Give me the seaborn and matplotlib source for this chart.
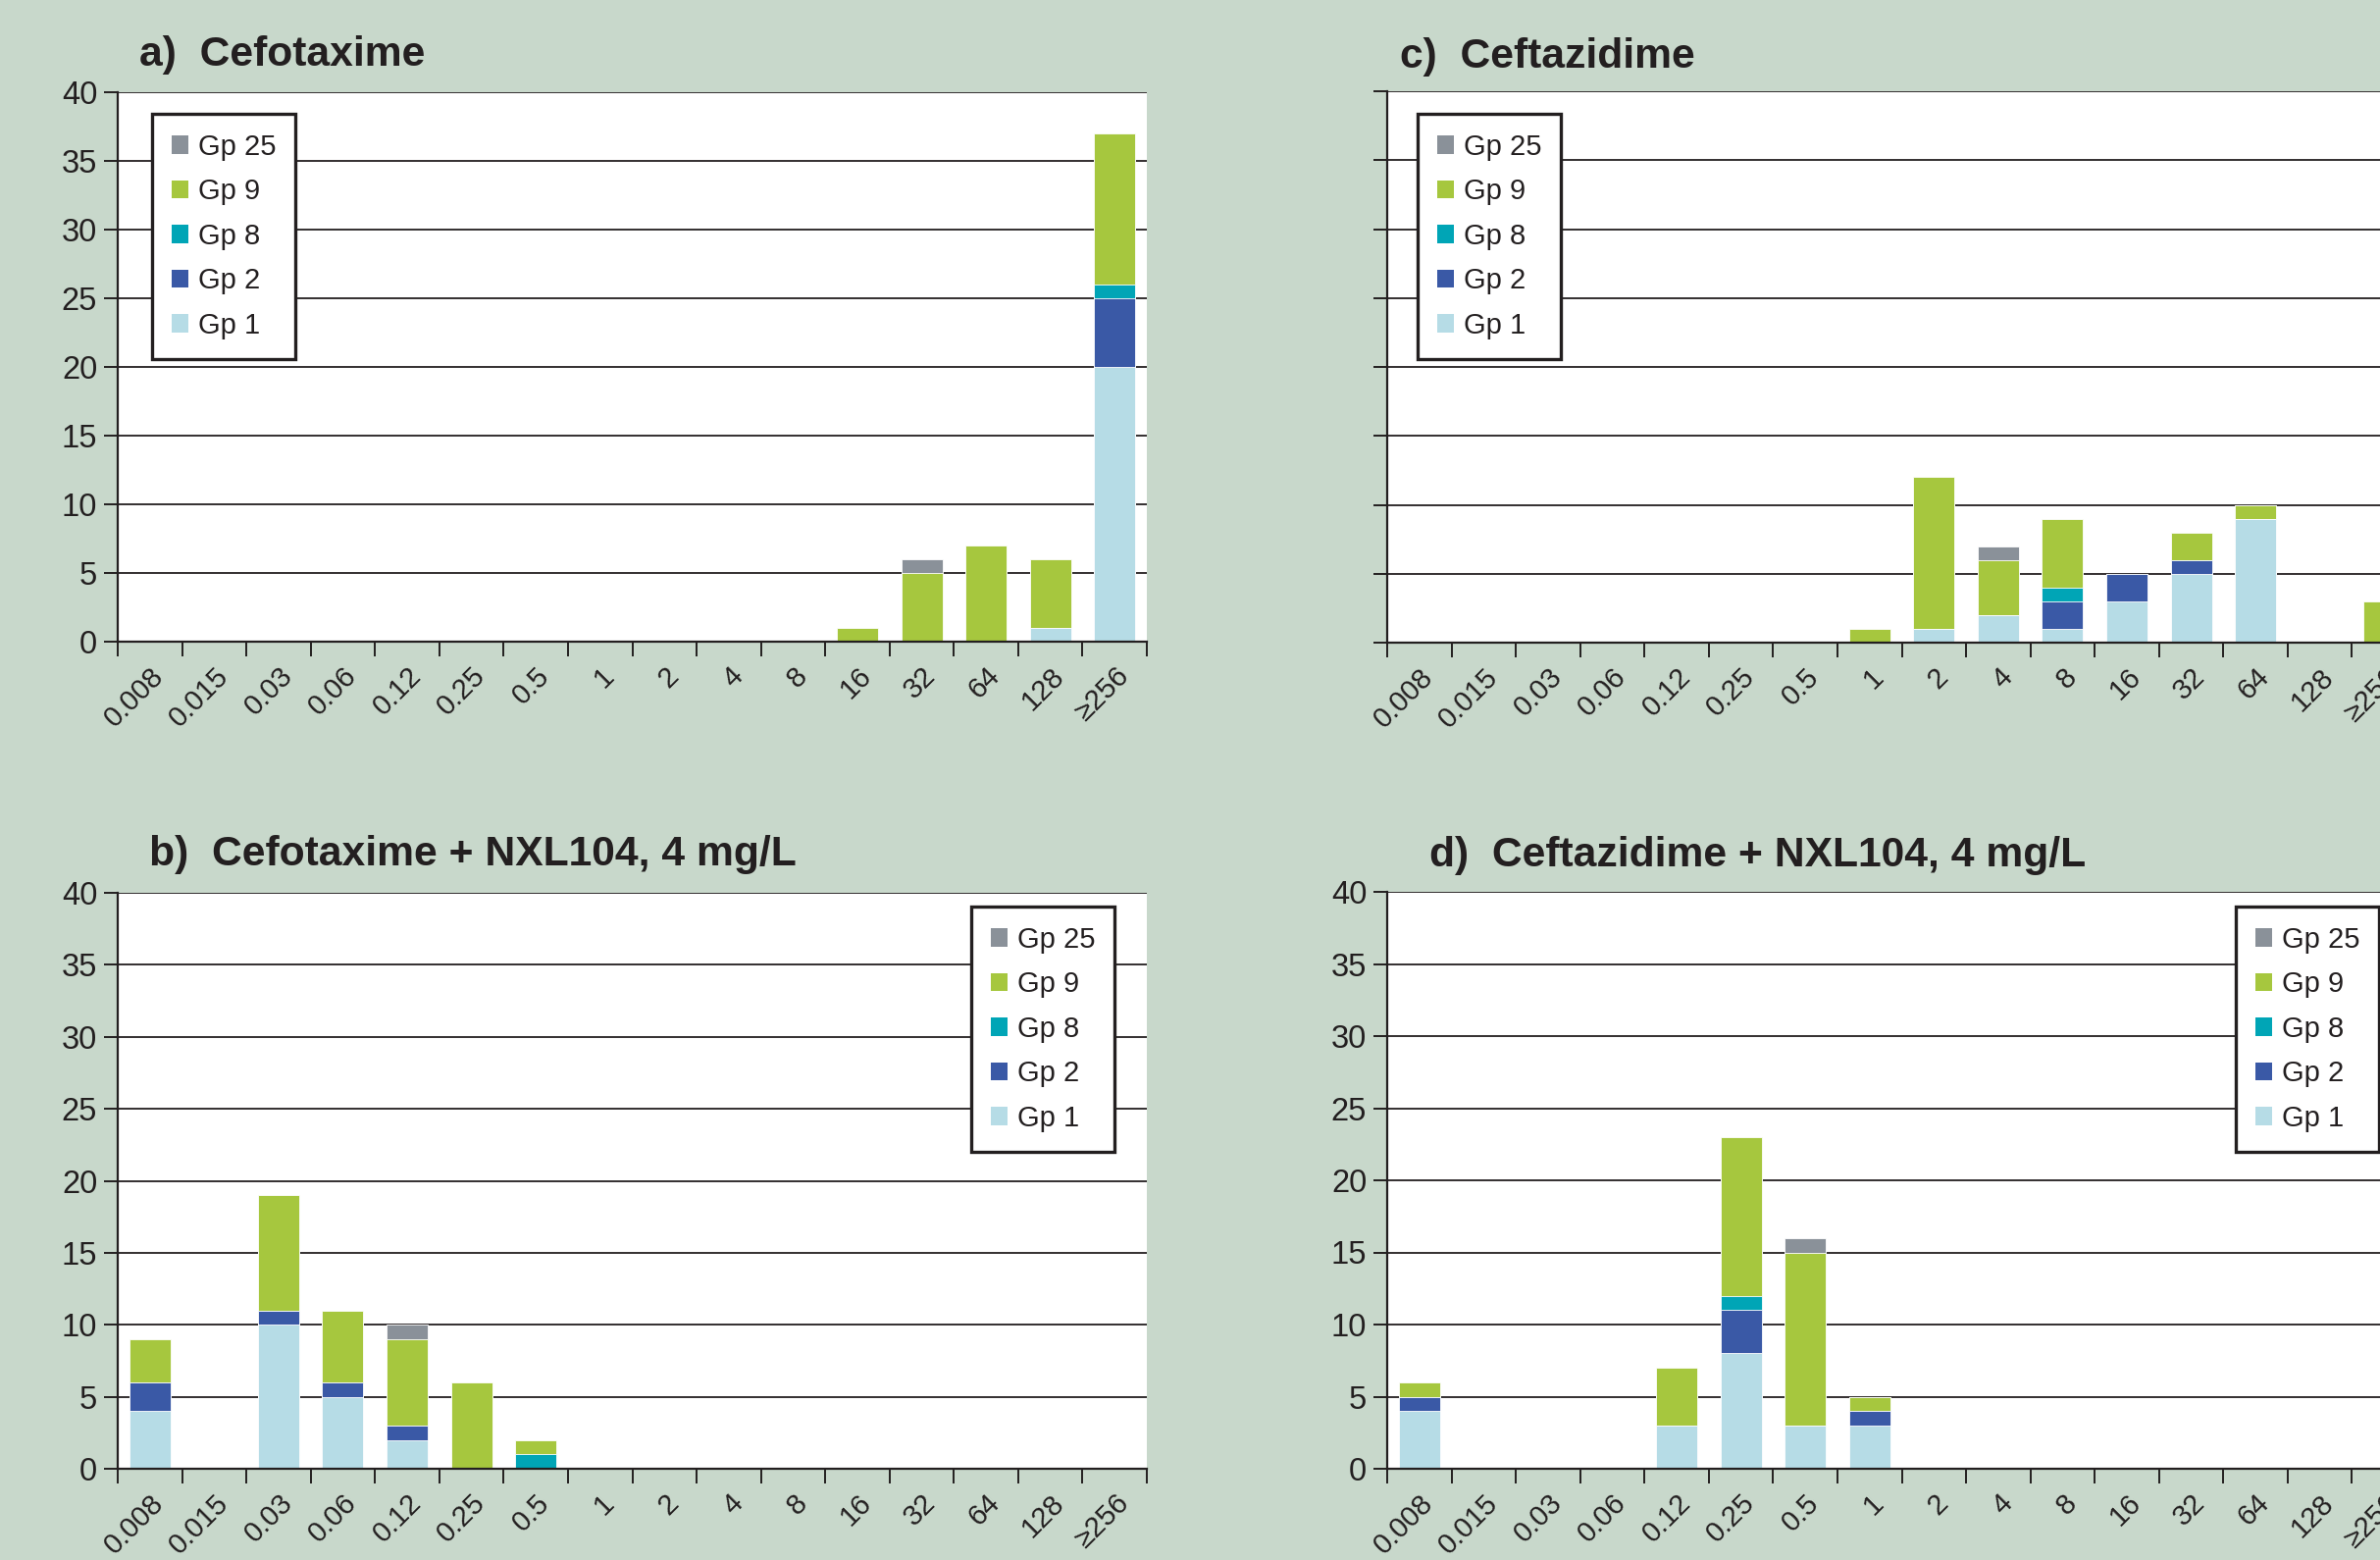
# MIC distribution by group, stacked bars (4 panels)

import matplotlib
matplotlib.use('Agg')
import matplotlib.pyplot as plt
import seaborn as sns
from matplotlib.patches import Patch

sns.set_style('white')
plt.rcParams['font.family'] = ['Liberation Sans', 'DejaVu Sans']

# MIC bins (mg/L)
mic_bins = ['0.008', '0.015', '0.03', '0.06', '0.12', '0.25', '0.5', '1', '2',
            '4', '8', '16', '32', '64', '128', '≥256']
groups = ['Gp 1', 'Gp 2', 'Gp 8', 'Gp 9', 'Gp 25']
group_colors = ['#b6dce6', '#3a59a6', '#00a5b6', '#a6c73e', '#8a9199']

# a) Cefotaxime
cefotaxime_gp1 = [0, 0, 0, 0, 0, 0, 0, 0, 0, 0, 0, 0, 0, 0, 1, 20]
cefotaxime_gp2 = [0, 0, 0, 0, 0, 0, 0, 0, 0, 0, 0, 0, 0, 0, 0, 5]
cefotaxime_gp8 = [0, 0, 0, 0, 0, 0, 0, 0, 0, 0, 0, 0, 0, 0, 0, 1]
cefotaxime_gp9 = [0, 0, 0, 0, 0, 0, 0, 0, 0, 0, 0, 1, 5, 7, 5, 11]
cefotaxime_gp25 = [0, 0, 0, 0, 0, 0, 0, 0, 0, 0, 0, 0, 1, 0, 0, 0]

# b) Cefotaxime + NXL104
cefo_nxl_gp1 = [4, 0, 10, 5, 2, 0, 0, 0, 0, 0, 0, 0, 0, 0, 0, 0]
cefo_nxl_gp2 = [2, 0, 1, 1, 1, 0, 0, 0, 0, 0, 0, 0, 0, 0, 0, 0]
cefo_nxl_gp8 = [0, 0, 0, 0, 0, 0, 1, 0, 0, 0, 0, 0, 0, 0, 0, 0]
cefo_nxl_gp9 = [3, 0, 8, 5, 6, 6, 1, 0, 0, 0, 0, 0, 0, 0, 0, 0]
cefo_nxl_gp25 = [0, 0, 0, 0, 1, 0, 0, 0, 0, 0, 0, 0, 0, 0, 0, 0]

# c) Ceftazidime
ceftazidime_gp1 = [0, 0, 0, 0, 0, 0, 0, 0, 1, 2, 1, 3, 5, 9, 0, 0]
ceftazidime_gp2 = [0, 0, 0, 0, 0, 0, 0, 0, 0, 0, 2, 2, 1, 0, 0, 0]
ceftazidime_gp8 = [0, 0, 0, 0, 0, 0, 0, 0, 0, 0, 1, 0, 0, 0, 0, 0]
ceftazidime_gp9 = [0, 0, 0, 0, 0, 0, 0, 1, 11, 4, 5, 0, 2, 1, 0, 3]
ceftazidime_gp25 = [0, 0, 0, 0, 0, 0, 0, 0, 0, 1, 0, 0, 0, 0, 0, 0]

# d) Ceftazidime + NXL104
cefta_nxl_gp1 = [4, 0, 0, 0, 3, 8, 3, 3, 0, 0, 0, 0, 0, 0, 0, 0]
cefta_nxl_gp2 = [1, 0, 0, 0, 0, 3, 0, 1, 0, 0, 0, 0, 0, 0, 0, 0]
cefta_nxl_gp8 = [0, 0, 0, 0, 0, 1, 0, 0, 0, 0, 0, 0, 0, 0, 0, 0]
cefta_nxl_gp9 = [1, 0, 0, 0, 4, 11, 12, 1, 0, 0, 0, 0, 0, 0, 0, 0]
cefta_nxl_gp25 = [0, 0, 0, 0, 0, 0, 1, 0, 0, 0, 0, 0, 0, 0, 0, 0]

panels = [
    ('a)  Cefotaxime',
     [cefotaxime_gp1, cefotaxime_gp2, cefotaxime_gp8, cefotaxime_gp9, cefotaxime_gp25]),
    ('b)  Cefotaxime + NXL104, 4 mg/L',
     [cefo_nxl_gp1, cefo_nxl_gp2, cefo_nxl_gp8, cefo_nxl_gp9, cefo_nxl_gp25]),
    ('c)  Ceftazidime',
     [ceftazidime_gp1, ceftazidime_gp2, ceftazidime_gp8, ceftazidime_gp9, ceftazidime_gp25]),
    ('d)  Ceftazidime + NXL104, 4 mg/L',
     [cefta_nxl_gp1, cefta_nxl_gp2, cefta_nxl_gp8, cefta_nxl_gp9, cefta_nxl_gp25]),
]

W, H = 2426, 1590
bg = '#c8d8cb'
ink = '#231f20'

fig = plt.figure(figsize=(W / 100, H / 100), dpi=100, facecolor=bg)

# axes boxes in pixels: left, top, right, bottom
boxes = [(120, 94, 1169, 654), (120, 910, 1169, 1497),
         (1414, 93, 2463, 655), (1414, 909, 2463, 1497)]
title_pos = [(142, 67), (152, 882), (1427, 69), (1457, 883)]
# legend anchor (px), loc
legend_pos = [((155, 116), 'upper left'), ((1136, 924), 'upper right'),
              ((1445, 116), 'upper left'), ((2425, 924), 'upper right')]


def px(x, y):
    return x / W, 1 - y / H


for i, (title, layers) in enumerate(panels):
    l, t, r, b = boxes[i]
    ax = fig.add_axes([l / W, 1 - b / H, (r - l) / W, (b - t) / H])
    ax.set_facecolor('white')

    # cumulative totals, drawn from the top layer down
    cum = []
    run = [0] * len(mic_bins)
    for vals in layers:
        run = [a + v for a, v in zip(run, vals)]
        cum.append(run)
    for k in range(len(groups) - 1, -1, -1):
        sns.barplot(x=mic_bins, y=cum[k], order=mic_bins, color=group_colors[k],
                    saturation=1, width=0.64, edgecolor='white', linewidth=0.6,
                    ax=ax, zorder=3)

    ax.set_xlim(-0.5, len(mic_bins) - 0.5)
    ax.set_ylim(0, 40)
    ax.set_yticks(range(0, 41, 5))
    ax.yaxis.grid(True, color=ink, linewidth=1.3)
    ax.xaxis.grid(False)
    ax.set_axisbelow(True)
    ax.set_xlabel('')
    ax.set_ylabel('')

    for s in ['top', 'right']:
        ax.spines[s].set_visible(False)
    for s in ['left', 'bottom']:
        ax.spines[s].set_color(ink)
        ax.spines[s].set_linewidth(1.6)
        ax.spines[s].set_zorder(4)

    ax.tick_params(axis='y', direction='out', length=10, width=1.4, color=ink,
                   labelsize=23.5, labelcolor=ink, pad=5, left=True,
                   labelleft=(i in (0, 1, 3)))
    ax.set_xticks(range(len(mic_bins)))
    ax.set_xticklabels(mic_bins)
    ax.set_xticks([x - 0.5 for x in range(len(mic_bins) + 1)], minor=True)
    ax.tick_params(axis='x', which='major', length=0, labelsize=21,
                   labelcolor=ink, pad=15, bottom=True)
    ax.tick_params(axis='x', which='minor', direction='out', length=11,
                   width=1.4, color=ink, bottom=True)
    plt.setp(ax.get_xticklabels(), rotation=45, ha='right', va='top',
             rotation_mode='anchor')

    handles = [Patch(facecolor=group_colors[k], edgecolor='none', label=groups[k])
               for k in range(len(groups) - 1, -1, -1)]
    (lx, ly), loc = legend_pos[i]
    leg = ax.legend(handles=handles, loc=loc, bbox_to_anchor=px(lx, ly),
                    bbox_transform=fig.transFigure, fontsize=21, frameon=True,
                    fancybox=False, framealpha=1, edgecolor=ink, borderpad=0.68,
                    labelspacing=0.6, handlelength=0.6, handleheight=0.6,
                    handletextpad=0.32, borderaxespad=0)
    leg.get_frame().set_linewidth(2.4)
    for txt in leg.get_texts():
        txt.set_color(ink)
    leg.set_zorder(6)

    tx, ty = title_pos[i]
    fig.text(*px(tx, ty), title, fontsize=30.7, fontweight='bold', color=ink,
             ha='left', va='baseline')

fig.savefig('out.png', dpi=100, facecolor=bg)
plt.close(fig)
